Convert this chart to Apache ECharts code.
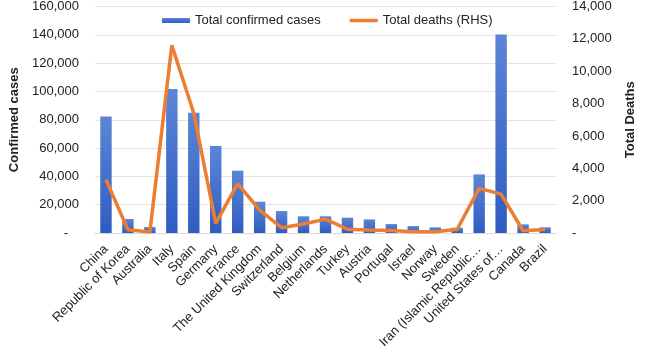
<!DOCTYPE html>
<html>
<head>
<meta charset="utf-8">
<script src="https://cdn.jsdelivr.net/npm/echarts@6/dist/echarts.min.js"></script>
<style>
  html, body { margin: 0; padding: 0; background: #fff; }
  #chart { width: 646px; height: 355px; }
</style>
</head>
<body>
<div id="chart"></div>
<script>
// data
let countries = ['China', 'Republic of Korea', 'Australia', 'Italy', 'Spain', 'Germany', 'France',
  'The United Kingdom', 'Switzerland', 'Belgium', 'Netherlands', 'Turkey', 'Austria', 'Portugal',
  'Israel', 'Norway', 'Sweden', 'Iran (Islamic Republic\u2026', 'United States of\u2026', 'Canada', 'Brazil'];
let confirmed = [82300, 9900, 4200, 101700, 85000, 61500, 44000, 22100, 15500, 11800, 11800,
  10800, 9600, 6300, 4900, 4000, 3700, 41400, 140300, 6100, 4000];
let deaths = [3300, 200, 60, 11600, 7400, 600, 3050, 1420, 330, 560, 860,
  230, 180, 160, 80, 80, 230, 2760, 2400, 140, 220];

let fontFam = '"Liberation Sans", Arial, sans-serif';

function fmt(v) {
  if (v === 0) return '-   ';
  return v.toLocaleString('en-US');
}

let chart = echarts.init(document.getElementById('chart'));

let option = {
  animation: false,
  textStyle: { fontFamily: fontFam },
  legend: {
    top: 9,
    left: 157,
    itemGap: 29,
    itemWidth: 28,
    itemHeight: 5,
    textStyle: { fontSize: 13, color: '#222', fontFamily: fontFam },
    data: [
      { name: 'Total confirmed cases', icon: 'rect' },
      { name: 'Total deaths (RHS)', icon: 'path://M0,0 H40 V5 H0 Z' }
    ]
  },
  grid: { left: 90, right: 90, top: 6, bottom: 122 },
  xAxis: {
    type: 'category',
    data: countries,
    axisTick: { show: false },
    axisLine: { lineStyle: { color: '#d9d9d9' } },
    axisLabel: {
      rotate: 45,
      interval: 0,
      margin: 14,
      fontSize: 13,
      color: '#222',
      fontFamily: fontFam
    }
  },
  yAxis: [{
    type: 'value',
    min: 0, max: 160000, interval: 20000,
    name: 'Confirmed cases',
    nameLocation: 'middle',
    nameGap: 74,
    nameTextStyle: { fontWeight: 'bold', fontSize: 13, color: '#222', fontFamily: fontFam },
    axisLabel: { formatter: fmt, fontSize: 13, color: '#222', margin: 16, fontFamily: fontFam },
    splitLine: { lineStyle: { color: '#e3e3e3' } }
  }, {
    type: 'value',
    min: 0, max: 14000, interval: 2000,
    name: 'Total Deaths',
    nameLocation: 'middle',
    nameGap: 68,
    nameRotate: 90,
    nameTextStyle: { fontWeight: 'bold', fontSize: 13, color: '#222', fontFamily: fontFam },
    axisLabel: {
      formatter: function (v) { return v === 0 ? '-' : v.toLocaleString('en-US'); },
      fontSize: 13, color: '#222', margin: 16, fontFamily: fontFam
    },
    splitLine: { show: false }
  }],
  series: [{
    name: 'Total confirmed cases',
    type: 'bar',
    data: confirmed,
    barWidth: '52%',
    itemStyle: {
      color: new echarts.graphic.LinearGradient(0, 0, 0, 1, [
        { offset: 0, color: '#5b86d6' },
        { offset: 1, color: '#2f5cc2' }
      ])
    }
  }, {
    name: 'Total deaths (RHS)',
    type: 'line',
    yAxisIndex: 1,
    data: deaths,
    symbol: 'none',
    lineStyle: { color: '#ed7d31', width: 3.5 },
    itemStyle: { color: '#ed7d31' }
  }]
};

chart.setOption(option);
</script>
</body>
</html>
